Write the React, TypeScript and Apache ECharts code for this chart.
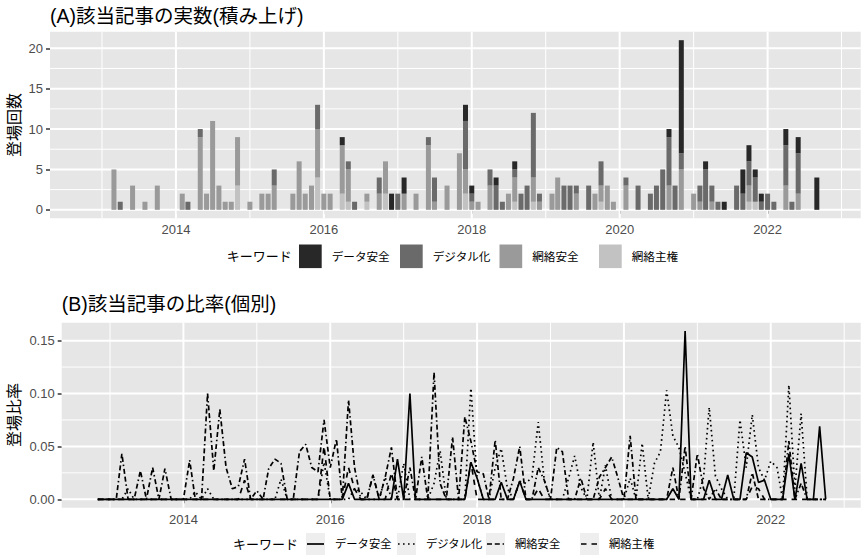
import React, { useEffect, useRef } from 'react';
import * as echarts from 'echarts';

// ---------- data ----------
const KEYWORDS = ['データ安全', 'デジタル化', '網絡安全', '網絡主権'];
const START_YEAR = 2012;
const START_MONTH = 11; // first month of the series (2012-11)
const MONTH_COUNT = 120; // 2012-11 .. 2022-10

// monthly counts (rows: 2012 Nov-Dec, 2013 ... 2021, 2022 Jan-Oct)
const COUNT_DATA_SAFETY = [
  0, 0,
  0, 0, 0, 0, 0, 0, 0, 0, 0, 0, 0, 0,
  0, 0, 0, 0, 0, 0, 0, 0, 0, 0, 0, 0,
  0, 0, 0, 0, 0, 0, 0, 0, 0, 0, 0, 0,
  0, 0, 0, 1, 0, 0, 0, 0, 0, 0, 0, 2,
  0, 2, 0, 0, 0, 0, 0, 0, 0, 0, 0, 2,
  1, 0, 0, 0, 1, 0, 0, 1, 0, 0, 0, 0,
  0, 0, 0, 0, 0, 0, 0, 0, 0, 0, 0, 0,
  0, 0, 0, 0, 0, 0, 0, 0, 1, 0, 14, 0,
  0, 0, 1, 0, 0, 1, 0, 0, 3, 2, 1, 1,
  0, 0, 0, 2, 0, 2, 0, 0, 4, 0,
];
const COUNT_DIGITAL = [
  0, 0,
  0, 0, 0, 1, 0, 0, 0, 0, 0, 0, 0, 0,
  0, 0, 1, 0, 1, 0, 0, 0, 0, 0, 0, 0,
  0, 0, 0, 0, 2, 0, 0, 0, 0, 0, 0, 3,
  0, 0, 0, 0, 1, 1, 0, 0, 0, 2, 0, 0,
  2, 0, 0, 0, 0, 1, 3, 0, 0, 0, 0, 6,
  1, 0, 0, 2, 3, 1, 0, 1, 2, 3, 8, 1,
  0, 0, 0, 3, 3, 1, 0, 3, 0, 3, 0, 0,
  0, 1, 0, 3, 0, 2, 3, 5, 6, 3, 2, 0,
  0, 2, 5, 2, 1, 0, 0, 3, 2, 3, 3, 1,
  2, 1, 0, 5, 1, 5, 0, 0, 0, 0,
];
const COUNT_CYBER_SECURITY = [
  0, 0,
  0, 0, 5, 0, 0, 3, 0, 1, 0, 3, 0, 0,
  0, 2, 0, 0, 9, 2, 11, 3, 1, 1, 6, 0,
  1, 0, 2, 2, 3, 0, 0, 2, 6, 2, 3, 6,
  2, 2, 0, 6, 4, 0, 0, 1, 0, 2, 4, 0,
  0, 2, 0, 2, 0, 8, 1, 0, 3, 0, 7, 3,
  1, 1, 0, 3, 0, 0, 2, 3, 0, 0, 3, 1,
  0, 2, 4, 0, 0, 2, 0, 0, 2, 2, 3, 1,
  0, 3, 0, 0, 0, 0, 0, 0, 3, 0, 5, 0,
  2, 1, 0, 1, 0, 0, 0, 0, 0, 2, 0, 0,
  0, 0, 0, 3, 0, 2, 0, 0, 0, 0,
];
const COUNT_CYBER_SOVEREIGNTY = [
  0, 0,
  0, 0, 0, 0, 0, 0, 0, 0, 0, 0, 0, 0,
  0, 0, 0, 0, 0, 0, 0, 0, 0, 0, 3, 0,
  0, 0, 0, 0, 0, 0, 0, 0, 0, 0, 0, 4,
  0, 0, 0, 2, 1, 0, 0, 1, 0, 0, 2, 0,
  0, 0, 0, 0, 0, 0, 0, 0, 0, 0, 0, 2,
  0, 0, 0, 0, 0, 0, 0, 1, 0, 0, 1, 0,
  0, 0, 0, 0, 0, 0, 0, 0, 0, 1, 0, 0,
  0, 0, 0, 0, 0, 0, 0, 0, 0, 0, 0, 0,
  0, 0, 0, 0, 0, 0, 0, 0, 0, 1, 1, 0,
  0, 0, 0, 0, 0, 0, 0, 0, 0, 0,
];

// monthly ratios
const RATIO_DATA_SAFETY = [
  0, 0,
  0, 0, 0, 0, 0, 0, 0, 0, 0, 0, 0, 0,
  0, 0, 0, 0, 0, 0, 0, 0, 0, 0, 0, 0,
  0, 0, 0, 0, 0, 0, 0, 0, 0, 0, 0, 0,
  0, 0, 0, 0.015, 0, 0, 0, 0, 0, 0, 0, 0.038,
  0, 0.1, 0, 0, 0, 0, 0, 0, 0, 0, 0, 0.035,
  0.02, 0, 0, 0, 0.016, 0, 0, 0.017, 0, 0, 0, 0,
  0, 0, 0, 0, 0, 0, 0, 0, 0, 0, 0, 0,
  0, 0, 0, 0, 0, 0, 0, 0, 0.01, 0, 0.159, 0,
  0, 0, 0.018, 0, 0, 0.023, 0, 0, 0.044, 0.04, 0.016, 0.018,
  0, 0, 0, 0.043, 0, 0.034, 0, 0, 0.069, 0,
];
const RATIO_DIGITAL = [
  0, 0,
  0, 0, 0, 0.01, 0, 0, 0, 0, 0, 0, 0, 0,
  0, 0, 0.007, 0, 0.01, 0, 0, 0, 0, 0, 0, 0,
  0, 0, 0, 0, 0.019, 0, 0, 0, 0, 0, 0, 0.035,
  0, 0, 0, 0, 0.01, 0.007, 0, 0, 0, 0.021, 0, 0,
  0.034, 0, 0, 0, 0, 0.015, 0.046, 0, 0, 0, 0, 0.105,
  0.02, 0, 0, 0.03, 0.048, 0.01, 0, 0.017, 0.015, 0.021, 0.073, 0.018,
  0, 0, 0, 0.02, 0.041, 0.011, 0, 0.054, 0, 0.032, 0, 0,
  0, 0.02, 0, 0.053, 0, 0.034, 0.045, 0.103, 0.06, 0.049, 0.025, 0,
  0, 0.021, 0.087, 0.022, 0.01, 0, 0, 0.075, 0.03, 0.08, 0.03, 0.018,
  0.036, 0.03, 0, 0.108, 0.01, 0.081, 0, 0, 0, 0,
];
const RATIO_CYBER_SECURITY = [
  0, 0,
  0, 0, 0.043, 0, 0, 0.027, 0, 0.03, 0, 0.029, 0, 0,
  0, 0.037, 0, 0, 0.1, 0.027, 0.085, 0.03, 0.01, 0.012, 0.038, 0,
  0.008, 0, 0.029, 0.038, 0.034, 0, 0, 0.045, 0.052, 0.03, 0.026, 0.075,
  0.03, 0.057, 0, 0.094, 0.03, 0, 0, 0.023, 0, 0.021, 0.049, 0,
  0, 0.03, 0, 0.04, 0, 0.12, 0.015, 0, 0.059, 0, 0.078, 0.055,
  0.026, 0.024, 0, 0.056, 0, 0, 0.02, 0.05, 0, 0, 0.03, 0.018,
  0, 0.049, 0.045, 0, 0, 0.02, 0, 0, 0.021, 0.03, 0.04, 0.021,
  0, 0.06, 0, 0, 0, 0, 0, 0, 0.03, 0, 0.05, 0,
  0.043, 0.01, 0, 0.01, 0, 0, 0, 0, 0, 0.025, 0, 0,
  0, 0, 0, 0.055, 0, 0.015, 0, 0, 0, 0,
];
const RATIO_CYBER_SOVEREIGNTY = [
  0, 0,
  0, 0, 0, 0, 0, 0, 0, 0, 0, 0, 0, 0,
  0, 0, 0, 0, 0, 0, 0, 0, 0, 0, 0.018, 0,
  0, 0, 0, 0, 0, 0, 0, 0, 0, 0, 0, 0.05,
  0, 0, 0, 0.03, 0.01, 0, 0, 0.023, 0, 0, 0.025, 0,
  0, 0, 0, 0, 0, 0, 0, 0, 0, 0, 0, 0.035,
  0, 0, 0, 0, 0, 0, 0, 0.017, 0, 0, 0.01, 0,
  0, 0, 0, 0, 0, 0, 0, 0, 0, 0.01, 0, 0,
  0, 0, 0, 0, 0, 0, 0, 0, 0, 0, 0, 0,
  0, 0, 0, 0, 0, 0, 0, 0, 0, 0.012, 0.01, 0,
  0, 0, 0, 0, 0, 0, 0, 0, 0, 0,
];

const COUNTS = [COUNT_DATA_SAFETY, COUNT_DIGITAL, COUNT_CYBER_SECURITY, COUNT_CYBER_SOVEREIGNTY];
const RATIOS = [RATIO_DATA_SAFETY, RATIO_DIGITAL, RATIO_CYBER_SECURITY, RATIO_CYBER_SOVEREIGNTY];

// axis breaks
const X_MAJOR = [2014, 2016, 2018, 2020, 2022];
const X_MINOR = [2013, 2015, 2017, 2019, 2021, 2023];
const Y_TOP_MAJOR = [0, 5, 10, 15, 20];
const Y_TOP_MINOR = [2.5, 7.5, 12.5, 17.5];
const Y_BOT_MAJOR = [0, 0.05, 0.1, 0.15];
const Y_BOT_MINOR = [0.025, 0.075, 0.125];

// ---------- styles ----------
const FONT = "'Liberation Sans', 'Noto Sans CJK JP', sans-serif";
const FILLS = ['#282828', '#6a6a6a', '#9a9a9a', '#c2c2c2'];
const DASHES: any[] = ['solid', [1.6, 3.4], [5, 2.8, 5, 2.8, 1.5, 2.8], [5.5, 5]];
const PANEL = '#E6E6E6';
const TICK_TEXT = '#4D4D4D';

const X_TOP: [number, number] = [2012.297, 2023.259];
const X_BOT: [number, number] = [2012.342, 2023.225];
const Y_TOP: [number, number] = [-1.05, 22.05];
const Y_BOT: [number, number] = [-0.00795, 0.16695];

function monthToYear(idx: number): number {
  const m0 = START_MONTH - 1 + idx;
  const y = START_YEAR + Math.floor(m0 / 12);
  const m = m0 % 12;
  const t0 = Date.UTC(y, 0, 1);
  const t1 = Date.UTC(y + 1, 0, 1);
  return y + (Date.UTC(y, m, 1) - t0) / (t1 - t0);
}

const MONTH_X: number[] = Array.from({ length: MONTH_COUNT }, (_, i) => monthToYear(i));

function gridLines(gridIdx: number, yMajor: number[], yMinor: number[], xMin: number, yMin: number) {
  const vData = [...X_MAJOR.map((v) => [v, yMin, 1]), ...X_MINOR.map((v) => [v, yMin, 0])];
  const hData = [...yMajor.map((v) => [xMin, v, 1]), ...yMinor.map((v) => [xMin, v, 0])];
  return [
    {
      type: 'custom',
      xAxisIndex: gridIdx,
      yAxisIndex: gridIdx,
      silent: true,
      z: 1,
      data: vData,
      renderItem: (params: any, api: any) => {
        const cs = params.coordSys;
        const x = api.coord([api.value(0), api.value(1)])[0];
        return {
          type: 'line',
          shape: { x1: x, y1: cs.y, x2: x, y2: cs.y + cs.height },
          style: { stroke: '#ffffff', lineWidth: api.value(2) ? 2 : 1 },
        };
      },
    },
    {
      type: 'custom',
      xAxisIndex: gridIdx,
      yAxisIndex: gridIdx,
      silent: true,
      z: 1,
      data: hData,
      renderItem: (params: any, api: any) => {
        const cs = params.coordSys;
        const y = api.coord([api.value(0), api.value(1)])[1];
        return {
          type: 'line',
          shape: { x1: cs.x, y1: y, x2: cs.x + cs.width, y2: y },
          style: { stroke: '#ffffff', lineWidth: api.value(2) ? 2 : 1 },
        };
      },
    },
  ];
}

function axisCommon(breaks: number[], fmt: (v: number) => string, margin: number) {
  return {
    splitLine: { show: false },
    minorSplitLine: { show: false },
    axisLine: { show: false },
    axisTick: { show: true, customValues: breaks, length: 4, lineStyle: { color: '#333333', width: 1.5 } },
    axisLabel: { customValues: breaks, formatter: fmt, color: TICK_TEXT, fontSize: 13, fontFamily: FONT, margin },
  };
}

function buildOption() {
  // value first, date second, so the stack is computed on the value dimension
  const barSeries = KEYWORDS.map((name, k) => ({
    name,
    type: 'bar',
    stack: 'count',
    xAxisIndex: 0,
    yAxisIndex: 0,
    barWidth: 5,
    z: 3,
    encode: { x: 1, y: 0 },
    itemStyle: { color: FILLS[k] },
    data: MONTH_X.map((x, i) => [COUNTS[k][i], x]),
  })).reverse();

  const lineSeries = KEYWORDS.map((name, k) => ({
    name,
    type: 'line',
    xAxisIndex: 1,
    yAxisIndex: 1,
    symbol: 'none',
    showSymbol: false,
    z: 3,
    lineStyle: { color: '#000000', width: 1.7, type: DASHES[k] },
    data: MONTH_X.map((x, i) => [x, RATIOS[k][i]]),
  }));

  // legends drawn as graphics
  const topKeyX = [299, 400, 499.5, 599];
  const botTextX = [335, 426, 515, 609];
  const topLegendY = 256.3;
  const botLegendY = 544;
  const txt = (text: string, x: number, y: number, size: number) => ({
    type: 'text',
    x,
    y,
    style: { text, fill: '#000000', fontSize: size, fontFamily: FONT, textAlign: 'left', textVerticalAlign: 'middle' },
  });

  const graphics: any[] = [
    txt('(A)該当記事の実数(積み上げ)', 50, 15.8, 19.5),
    txt('(B)該当記事の比率(個別)', 61.7, 304, 19.5),
    {
      type: 'text', x: 14.5, y: 125, rotation: Math.PI / 2,
      style: { text: '登場回数', fill: '#000000', fontSize: 16, fontFamily: FONT, textAlign: 'center', textVerticalAlign: 'middle' },
    },
    {
      type: 'text', x: 14.5, y: 415, rotation: Math.PI / 2,
      style: { text: '登場比率', fill: '#000000', fontSize: 16, fontFamily: FONT, textAlign: 'center', textVerticalAlign: 'middle' },
    },
    txt('キーワード', 226.7, topLegendY, 13),
    txt('キーワード', 233, botLegendY, 13),
  ];
  KEYWORDS.forEach((name, k) => {
    graphics.push({
      type: 'rect',
      shape: { x: topKeyX[k], y: topLegendY - 11.8, width: 22.7, height: 23.6 },
      style: { fill: FILLS[k] },
    });
    graphics.push(txt(name, topKeyX[k] + 32.7, topLegendY, 11.6));
    const bx = botTextX[k] - 29;
    graphics.push({
      type: 'rect',
      shape: { x: bx, y: botLegendY - 11, width: 19, height: 22 },
      style: { fill: '#EEEEEE' },
    });
    graphics.push({
      type: 'line',
      shape: { x1: bx + 1, y1: botLegendY, x2: bx + 18, y2: botLegendY },
      style: { stroke: '#000000', lineWidth: 1.7, lineDash: DASHES[k] === 'solid' ? null : DASHES[k] },
    });
    graphics.push(txt(name, botTextX[k], botLegendY, 11.3));
  });

  return {
    animation: false,
    backgroundColor: '#ffffff',
    textStyle: { fontFamily: FONT },
    grid: [
      { left: 50, right: 5.3, top: 31.7, height: 186.6, show: true, backgroundColor: PANEL, borderWidth: 0, containLabel: false, outerBoundsMode: 'none' },
      { left: 61.7, right: 5.3, top: 322.7, height: 185, show: true, backgroundColor: PANEL, borderWidth: 0, containLabel: false, outerBoundsMode: 'none' },
    ],
    xAxis: [
      { type: 'value', gridIndex: 0, min: X_TOP[0], max: X_TOP[1], ...axisCommon(X_MAJOR, (v) => String(v), 5) },
      { type: 'value', gridIndex: 1, min: X_BOT[0], max: X_BOT[1], ...axisCommon(X_MAJOR, (v) => String(v), 5) },
    ],
    yAxis: [
      { type: 'value', gridIndex: 0, min: Y_TOP[0], max: Y_TOP[1], ...axisCommon(Y_TOP_MAJOR, (v) => String(v), 7) },
      { type: 'value', gridIndex: 1, min: Y_BOT[0], max: Y_BOT[1], ...axisCommon(Y_BOT_MAJOR, (v) => v.toFixed(2), 7) },
    ],
    series: [
      ...gridLines(0, Y_TOP_MAJOR, Y_TOP_MINOR, X_TOP[0], Y_TOP[0]),
      ...gridLines(1, Y_BOT_MAJOR, Y_BOT_MINOR, X_BOT[0], Y_BOT[0]),
      ...barSeries,
      ...lineSeries,
    ],
    graphic: graphics,
  };
}

export default function App() {
  const ref = useRef<HTMLDivElement>(null);
  useEffect(() => {
    if (!ref.current) return;
    const chart = echarts.init(ref.current, undefined, { renderer: 'svg' });
    chart.setOption(buildOption() as any);
    return () => chart.dispose();
  }, []);
  return (
    <div
      ref={ref}
      style={{ position: 'absolute', left: 0, top: 0, width: 866, height: 559, background: '#fff' }}
    />
  );
}
